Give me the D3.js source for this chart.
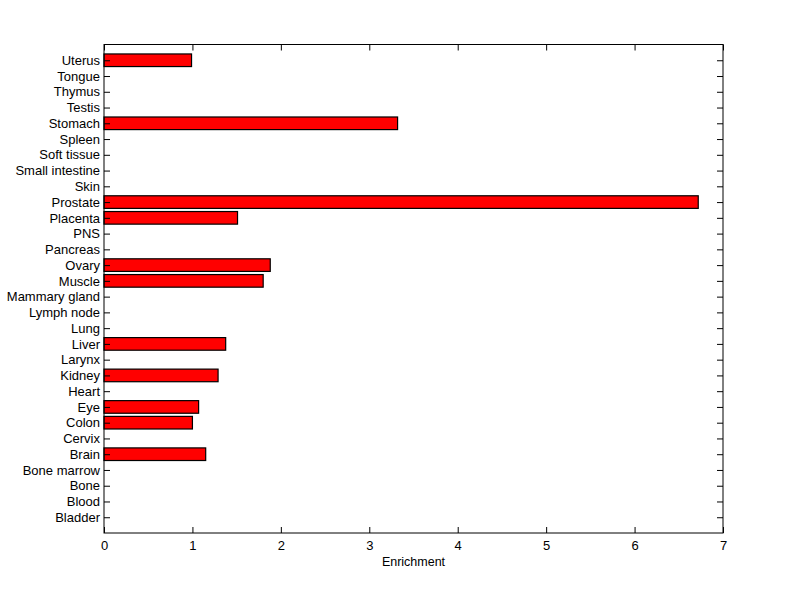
<!DOCTYPE html>
<html><head><meta charset="utf-8">
<script src="https://cdn.jsdelivr.net/npm/d3@7"></script>
<style>body{margin:0;background:#fff}svg{display:block}</style>
</head><body>
<script>
const categories = ["Bladder","Blood","Bone","Bone marrow","Brain","Cervix","Colon","Eye","Heart","Kidney","Larynx","Liver","Lung","Lymph node","Mammary gland","Muscle","Ovary","Pancreas","PNS","Placenta","Prostate","Skin","Small intestine","Soft tissue","Spleen","Stomach","Testis","Thymus","Tongue","Uterus"];
const values = [0,0,0,0,1.15,0,1.0,1.07,0,1.29,0,1.376,0,0,0,1.80,1.88,0,0,1.51,6.72,0,0,0,0,3.32,0,0,0,0.99];
const xTicks = [0,1,2,3,4,5,6,7];
const xLabel = "Enrichment";

const W = 800, H = 599;
const L = 104, R = 723, T = 44.5, B = 533;
const FONT = '"Liberation Sans",Arial,sans-serif';
const svg = d3.select("body").append("svg").attr("width", W).attr("height", H);
const x = d3.scaleLinear().domain([0,7]).range([L,R]);
const y = d3.scaleLinear().domain([0,31]).range([B,T]);
const bw = y(0) - y(0.8);

svg.append("g").selectAll("rect").data(values.map((v,i)=>({v,i}))).join("rect")
  .filter(d=>d.v>0)
  .attr("x", x(0)).attr("y", d=>y(d.i+1)-bw/2)
  .attr("width", d=>x(d.v)-x(0)).attr("height", bw)
  .attr("fill","#ff0000").attr("stroke","#000").attr("stroke-width",1.2);

svg.append("rect").attr("x",L).attr("y",T).attr("width",R-L).attr("height",B-T)
  .attr("fill","none").attr("stroke","#000").attr("stroke-width",1);

const tl = 6;
const xb = svg.append("g").attr("transform",`translate(0,${B})`)
  .call(d3.axisBottom(x).tickValues(xTicks).tickFormat(d3.format("d")).tickSizeInner(-tl).tickSizeOuter(0).tickPadding(8));
const xt = svg.append("g").attr("transform",`translate(0,${T})`)
  .call(d3.axisTop(x).tickValues(xTicks).tickFormat("").tickSizeInner(-tl).tickSizeOuter(0));
const yl = svg.append("g").attr("transform",`translate(${L},0)`)
  .call(d3.axisLeft(y).tickValues(d3.range(1,31)).tickFormat(d=>categories[d-1]).tickSizeInner(-tl).tickSizeOuter(0).tickPadding(4));
const yr = svg.append("g").attr("transform",`translate(${R},0)`)
  .call(d3.axisRight(y).tickValues(d3.range(1,31)).tickFormat("").tickSizeInner(-tl).tickSizeOuter(0));
[xb,xt,yl,yr].forEach(g=>{
  g.attr("font-family",null).attr("font-size",null);
  g.select(".domain").remove();
  g.selectAll("line").attr("stroke","#000");
  g.selectAll("text").style("font-family",FONT).style("font-size","13px").attr("fill","#000");
});
svg.append("text").attr("x",(L+R)/2).attr("y",566).attr("text-anchor","middle")
  .style("font-family",FONT).style("font-size","12.5px").attr("fill","#000").text(xLabel);
</script>
</body></html>
